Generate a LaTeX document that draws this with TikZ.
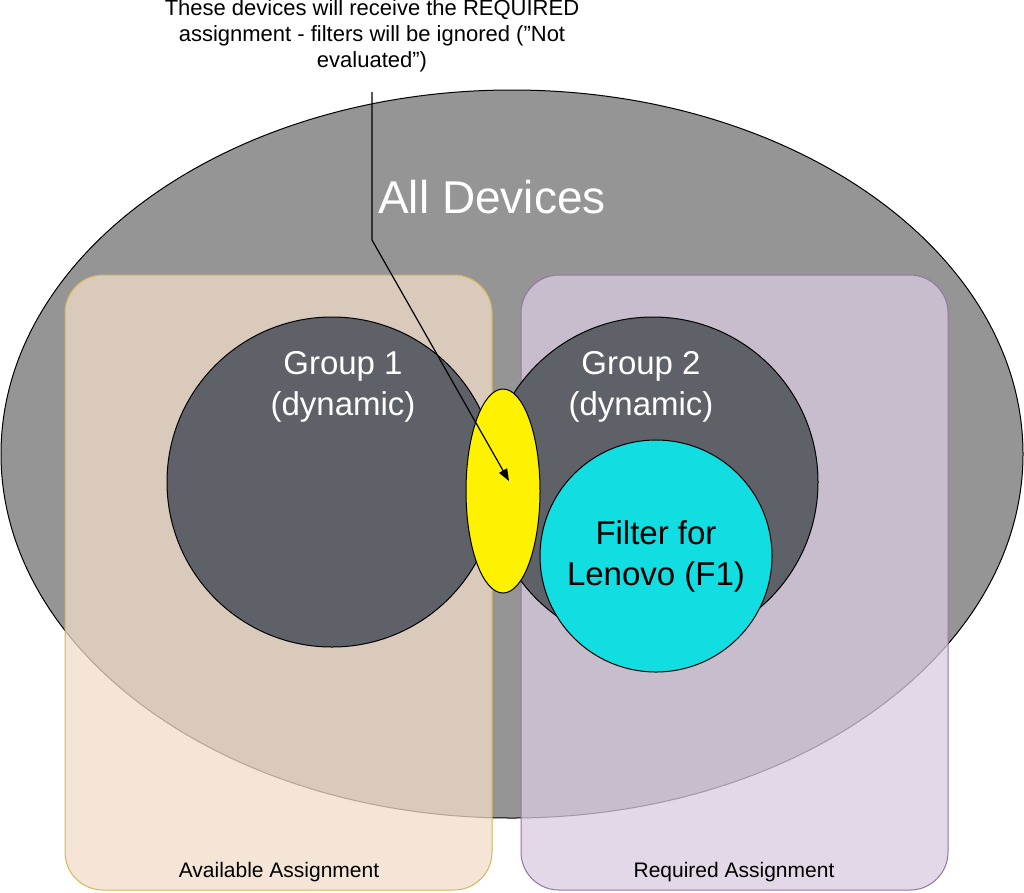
\documentclass[tikz,border=0pt]{standalone}
\usepackage{fontspec}
\setmainfont{Liberation Sans}
\usetikzlibrary{arrows.meta,shapes.geometric}
\definecolor{ell}{HTML}{959595}
\definecolor{circ}{HTML}{5F6169}
\definecolor{cyan1}{HTML}{12DDE0}
\definecolor{orf}{HTML}{F0DCC8}
\definecolor{ord}{HTML}{D6B656}
\definecolor{puf}{HTML}{D8CBE0}
\definecolor{pud}{HTML}{9673A6}
\tikzset{box/.style={rounded corners=38pt,line width=1pt,fill opacity=0.75},
 grp/.style={fill=circ,draw=black,line width=1pt}}
\begin{document}
\begin{tikzpicture}[x=1pt,y=-1pt]
\useasboundingbox (0,0) rectangle (1024,892);
\node[ellipse,draw=black,fill=ell,line width=1pt,minimum width=1022pt,minimum height=728pt,inner sep=0pt] (all) at (512,454) {};
\draw[box,draw=ord,fill=orf] (65,275) rectangle (492,890);
\draw[box,draw=pud,fill=puf] (521,275) rectangle (948,890);
\node[circle,grp,minimum size=330pt,inner sep=0pt] (g1) at (332,482) {};
\node[circle,grp,minimum size=330pt,inner sep=0pt] (g2) at (653,482) {};
\node[ellipse,fill=yellow,draw=black,line width=1pt,minimum width=74pt,minimum height=204pt,inner sep=0pt] (y) at (503,491) {};
\node[circle,fill=cyan1,draw=black,line width=1pt,minimum size=232pt,inner sep=0pt] (f1) at (656,556) {};
\node[text=white,font=\fontsize{46}{52}\selectfont] (t) at (492,197) {All Devices};
\node[text=white,font=\fontsize{33}{41}\selectfont,align=center] (l1) at (343,387) {Group 1\\(dynamic)};
\node[text=white,font=\fontsize{33}{41}\selectfont,align=center] (l2) at (641,387) {Group 2\\(dynamic)};
\node[text=black,font=\fontsize{33}{41}\selectfont,align=center] (l3) at (656,556) {Filter for\\Lenovo (F1)};
\node[font=\fontsize{22}{26}\selectfont,align=center] (top) at (372,36) {These devices will receive the REQUIRED\\assignment - filters will be ignored (\symbol{34}Not\\evaluated\symbol{34})};
\coordinate (a0) at (372,92);
\coordinate (a1) at (372,240);
\coordinate (a2) at (509,481);
\draw[line width=1.2pt,-{Triangle[length=12pt,width=9pt]}] (a0) -- (a1) -- (a2);
\node[font=\fontsize{21}{24}\selectfont] (av) at (279,872) {Available Assignment};
\node[font=\fontsize{21}{24}\selectfont] (rq) at (734,872) {Required Assignment};
\end{tikzpicture}
\end{document}
